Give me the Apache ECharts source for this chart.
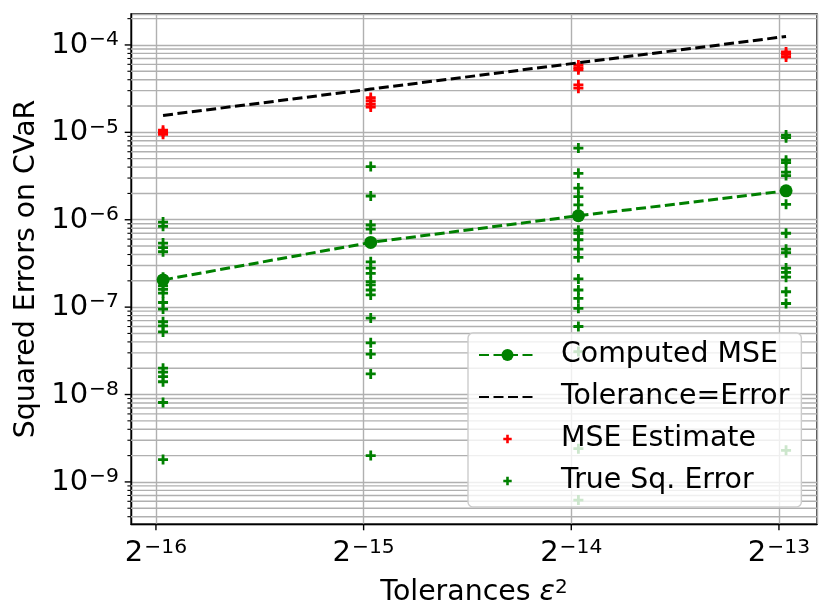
<!DOCTYPE html>
<html><head><meta charset="utf-8">
<script src="https://cdn.jsdelivr.net/npm/echarts@6/dist/echarts.min.js"></script>
<style>html,body{margin:0;padding:0;background:#fff}#c{width:831px;height:616px}</style>
</head><body><div id="c"></div>
<script>
// ---- data ----
const tolerances = [1.5625e-5, 3.125e-5, 6.25e-5, 1.25e-4];
const computedMSE = [2.05e-7, 5.5e-7, 1.11e-6, 2.14e-6];
const mseEstimate1 = [1.06e-5, 1.0e-5, 9.5e-6];
const mseEstimate2 = [2.5e-5, 2.3e-5, 2.1e-5, 1.95e-5];
const mseEstimate3 = [5.9e-5, 5.5e-5, 5.2e-5, 3.5e-5, 3.2e-5];
const mseEstimate4 = [8.3e-5, 7.8e-5, 7.3e-5];
const trueErr1 = [9.4e-7, 8.4e-7, 5.4e-7, 4.8e-7, 4.3e-7, 2.2e-7, 1.75e-7, 1.6e-7, 1.45e-7, 1.13e-7, 9.5e-8, 6.8e-8, 6.1e-8, 5.2e-8, 2.0e-8, 1.8e-8, 1.6e-8, 1.4e-8, 8.1e-9, 1.8e-9];
const trueErr2 = [4.06e-6, 1.87e-6, 8.7e-7, 7.8e-7, 3.3e-7, 2.8e-7, 2.44e-7, 1.96e-7, 1.8e-7, 1.57e-7, 1.38e-7, 7.5e-8, 3.9e-8, 2.9e-8, 1.72e-8, 2.0e-9];
const trueErr3 = [6.6e-6, 3.4e-6, 2.3e-6, 1.84e-6, 1.48e-6, 7.6e-7, 7.0e-7, 5.9e-7, 4.6e-7, 3.7e-7, 2.1e-7, 1.57e-7, 1.26e-7, 9.7e-8, 6.0e-8, 3.1e-8, 2.4e-9, 6.2e-10];
const trueErr4 = [9.3e-6, 8.7e-6, 4.8e-6, 4.5e-6, 3.5e-6, 3.2e-6, 1.5e-6, 7.0e-7, 4.6e-7, 4.2e-7, 2.8e-7, 2.5e-7, 2.2e-7, 1.5e-7, 1.1e-7, 2.3e-9];
const xTickExponents = [-16, -15, -14, -13];
const yTickExponents = [-9, -8, -7, -6, -5, -4];
const xLimits = [1.404e-5, 1.386e-4];
const yLimits = [3.3e-10, 2.26e-4];

// ---- build series data ----
const mseEstimateCols = [mseEstimate1, mseEstimate2, mseEstimate3, mseEstimate4];
const trueErrCols = [trueErr1, trueErr2, trueErr3, trueErr4];
const pairCols = cols => cols.flatMap((col, i) => col.map(v => [tolerances[i], v]));
const mseEstData = pairCols(mseEstimateCols);
const trueErrData = pairCols(trueErrCols);
const computedData = tolerances.map((t, i) => [t, computedMSE[i]]);
const toleranceData = tolerances.map(t => [t, t]);

// minor y gridline values (2..9 x 10^k) inside the y range
const minorVals = [];
for (let k = -10; k <= -4; k++) {
  for (let m = 2; m <= 9; m++) {
    const v = m * Math.pow(10, k);
    if (v > yLimits[0] && v < yLimits[1]) minorVals.push(v);
  }
}
const yMajorVals = yTickExponents.map(e => Math.pow(10, e));
const xMajorVals = xTickExponents.map(e => Math.pow(2, e));

const FONT = 'DejaVu Sans';
const GRID_COLOR = '#b0b0b0';
const plusPath = 'path://M3.6,0H6.4V3.6H10V6.4H6.4V10H3.6V6.4H0V3.6H3.6Z';
const plusLegend = 'path://M0,0M57,15M27.2,3.3H29.8V6.2H32.7V8.8H29.8V11.7H27.2V8.8H24.3V6.2H27.2Z';

const richTick = {
  b: { fontSize: 29, fontFamily: FONT, color: '#000', lineHeight: 30, padding: [6, 0, 0, 0], verticalAlign: 'bottom' },
  s: { fontSize: 20.3, fontFamily: FONT, color: '#000', lineHeight: 21, padding: [0, 0, 0, 1], verticalAlign: 'top' }
};

function isIntExp(v, base) {
  const e = Math.log(v) / Math.log(base);
  return Math.abs(e - Math.round(e)) < 1e-6 ? Math.round(e) : null;
}

const chart = echarts.init(document.getElementById('c'));
chart.setOption({
  animation: false,
  backgroundColor: '#fff',
  grid: { left: 131, top: 14, right: 14, bottom: 92, show: true, borderColor: '#000', borderWidth: 1.4, backgroundColor: 'transparent' },
  legend: {
    orient: 'vertical', left: 468, top: 333,
    itemWidth: 57, itemHeight: 15, itemGap: 14,
    padding: [8, 12, 12, 10],
    backgroundColor: 'rgba(255,255,255,0.8)',
    borderColor: '#cccccc', borderWidth: 1.4, borderRadius: 5,
    selectedMode: false,
    textStyle: { fontSize: 28.4, fontFamily: FONT, color: '#000', padding: [0, 0, 0, 20] },
    data: [
      { name: 'Computed MSE' },
      { name: 'Tolerance=Error', itemStyle: { opacity: 0 } },
      { name: 'MSE Estimate', icon: plusLegend },
      { name: 'True Sq. Error', icon: plusLegend }
    ]
  },
  xAxis: {
    type: 'log', logBase: 2, min: xLimits[0], max: xLimits[1],
    name: '{t|Tolerances }{e|ε}{s|2}', nameLocation: 'middle', nameGap: 50,
    nameTextStyle: {
      rich: {
        t: { fontSize: 28.4, fontFamily: FONT, color: '#000', lineHeight: 29, padding: [6, 0, 0, 0], verticalAlign: 'bottom' },
        e: { fontSize: 28.4, fontFamily: FONT, fontStyle: 'italic', color: '#000', lineHeight: 29, padding: [6, 0, 0, 0], verticalAlign: 'bottom' },
        s: { fontSize: 20, fontFamily: FONT, color: '#000', lineHeight: 21, verticalAlign: 'top' }
      }
    },
    axisLine: { show: true, lineStyle: { color: '#000', width: 1.4 } },
    axisTick: { show: false },
    splitLine: { show: true, lineStyle: { color: GRID_COLOR, width: 1.4 } },
    axisLabel: {
      margin: 14,
      formatter: v => { const e = isIntExp(v, 2); return (e !== null && xTickExponents.includes(e)) ? '{b|2}{s|−' + (-e) + '}' : ''; },
      rich: richTick
    }
  },
  yAxis: {
    type: 'log', logBase: 10, min: yLimits[0], max: yLimits[1],
    name: 'Squared Errors on CVaR', nameLocation: 'middle', nameRotate: 90, nameGap: 82,
    nameTextStyle: { fontSize: 28.4, fontFamily: FONT, color: '#000' },
    axisLine: { show: true, lineStyle: { color: '#000', width: 1.4 } },
    axisTick: { show: false },
    splitLine: { show: true, lineStyle: { color: GRID_COLOR, width: 1.4 } },
    axisLabel: {
      margin: 12,
      formatter: v => { const e = isIntExp(v, 10); return (e !== null && yTickExponents.includes(e)) ? '{b|10}{s|−' + (-e) + '}' : ''; },
      rich: richTick
    }
  },
  series: [
    {
      name: 'minorGrid', type: 'custom', z: 1, silent: true, clip: false,
      data: minorVals.map(v => [xLimits[0], v]),
      encode: { x: 0, y: 1 },
      renderItem: (params, api) => {
        const v = api.value(1);
        const p0 = api.coord([xLimits[0], v]);
        const p1 = api.coord([xLimits[1], v]);
        return { type: 'group', children: [
          { type: 'line', shape: { x1: p0[0], y1: p0[1], x2: p1[0], y2: p1[1] }, style: { stroke: GRID_COLOR, lineWidth: 1.4 } },
          { type: 'line', shape: { x1: p0[0] - 3.6, y1: p0[1], x2: p0[0], y2: p0[1] }, style: { stroke: '#000', lineWidth: 1.1 } }
        ] };
      }
    },
    {
      name: 'yMajorTicks', type: 'custom', z: 6, silent: true, clip: false,
      data: yMajorVals.map(v => [xLimits[0], v]),
      encode: { x: 0, y: 1 },
      renderItem: (params, api) => {
        const p = api.coord([xLimits[0], api.value(1)]);
        return { type: 'line', shape: { x1: p[0] - 6.3, y1: p[1], x2: p[0], y2: p[1] }, style: { stroke: '#000', lineWidth: 1.4 } };
      }
    },
    {
      name: 'xMajorTicks', type: 'custom', z: 6, silent: true, clip: false,
      data: xMajorVals.map(v => [v, yLimits[0]]),
      encode: { x: 0, y: 1 },
      renderItem: (params, api) => {
        const p = api.coord([api.value(0), yLimits[0]]);
        return { type: 'line', shape: { x1: p[0], y1: p[1], x2: p[0], y2: p[1] + 6.3 }, style: { stroke: '#000', lineWidth: 1.4 } };
      }
    },
    {
      name: 'MSE Estimate', type: 'scatter', z: 3, data: mseEstData,
      symbol: plusPath, symbolSize: 10, itemStyle: { color: '#ff0000', opacity: 1 }
    },
    {
      name: 'True Sq. Error', type: 'scatter', z: 3, data: trueErrData,
      symbol: plusPath, symbolSize: 10, itemStyle: { color: '#008000', opacity: 1 }
    },
    {
      name: 'Tolerance=Error', type: 'line', z: 4, data: toleranceData,
      symbol: 'none', lineStyle: { color: '#000', width: 3, type: [10, 4.5] },
      itemStyle: { color: '#000' }
    },
    {
      name: 'Computed MSE', type: 'line', z: 5, data: computedData,
      symbol: 'circle', symbolSize: 13, showSymbol: true,
      lineStyle: { color: '#008000', width: 3, type: [10, 4.5] },
      itemStyle: { color: '#008000' }
    }
  ]
});
</script>
</body></html>
